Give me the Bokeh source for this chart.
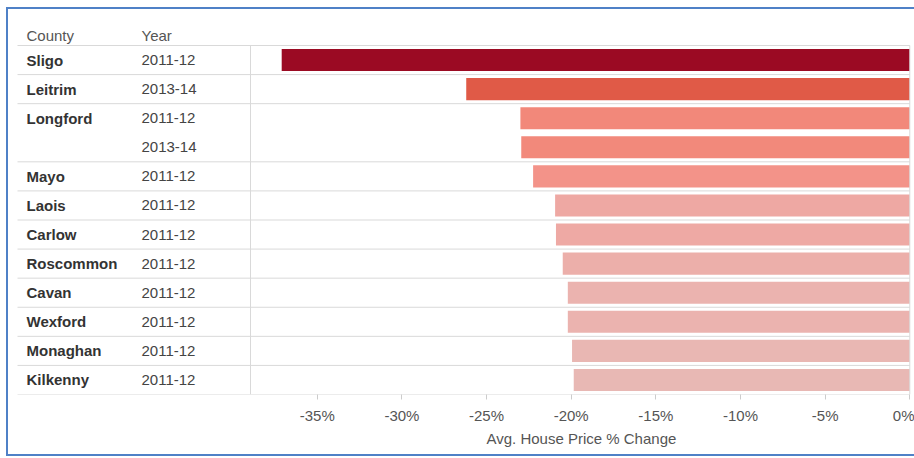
import numpy as np
from bokeh.plotting import figure
from bokeh.models import ColumnDataSource, Range1d, FixedTicker, PrintfTickFormatter, Title
from bokeh.core.properties import value
from bokeh.embed import file_html
from bokeh.resources import INLINE

# ---- data ----
counties = ["Sligo", "Leitrim", "Longford", "Longford", "Mayo", "Laois", "Carlow",
            "Roscommon", "Cavan", "Wexford", "Monaghan", "Kilkenny"]
years = ["2011-12", "2013-14", "2011-12", "2013-14", "2011-12", "2011-12", "2011-12",
         "2011-12", "2011-12", "2011-12", "2011-12", "2011-12"]
change = [-37.1, -26.2, -23.0, -22.95, -22.25, -20.95, -20.9, -20.5, -20.2, -20.2,
          -19.95, -19.85]
x_ticks = [-35, -30, -25, -20, -15, -10, -5, 0]
header = ["County", "Year"]
axis_title = "Avg. House Price % Change"

# ---- colour scale (Tableau-like red sequential, by value) ----
stops_v = [-37.1, -26.2, -23.0, -22.2, -20.9, -20.2, -19.8]
stops_c = ["#9b0a23", "#e05a47", "#f2887a", "#f3948a", "#eea9a4", "#ebb3af", "#e8b9b5"]


def hex2rgb(h):
    return [int(h[i:i + 2], 16) for i in (1, 3, 5)]


rgb = np.array([hex2rgb(c) for c in stops_c], dtype=float)
colors = []
for v in change:
    ch = [int(round(np.interp(v, stops_v, rgb[:, k]))) for k in range(3)]
    colors.append("#%02x%02x%02x" % tuple(ch))

n = len(counties)
row_mid = [r + 0.5 for r in range(n)]
shown_county = [c if (i == 0 or counties[i - 1] != c) else "" for i, c in enumerate(counties)]

# ---- layout geometry (pixel-based) ----
W, H = 914, 458
left_b, right_b, top_b, bottom_b = 10, 2, 10, 64
zero_px = 909.3
px_per_pct = 16.93
FONT = "Liberation Sans"


def px2x(px):
    return (px - zero_px) / px_per_pct


header_rows = 35 / 29.08

p = figure(width=W, height=H, output_backend="svg", toolbar_location=None,
           x_range=Range1d(px2x(left_b), px2x(W - right_b)),
           y_range=Range1d(n, -header_rows),
           min_border_left=left_b, min_border_right=right_b,
           min_border_top=top_b, min_border_bottom=bottom_b)
p.outline_line_color = None
p.background_fill_color = "white"
p.border_fill_color = "white"
p.xgrid.visible = False
p.ygrid.visible = False
p.yaxis.visible = False

src = ColumnDataSource(dict(y=row_mid, change=change, color=colors,
                            county=shown_county, year=years))

# bars
p.hbar(y="y", left="change", right=0, height=0.76, fill_color="color",
       line_color=None, source=src)

# row separators (not between rows of the same county)
sep_y = [0] + [i + 1 for i in range(n) if i == n - 1 or counties[i + 1] != counties[i]]
p.segment(x0=[px2x(17)] * len(sep_y), x1=[0] * len(sep_y), y0=sep_y, y1=sep_y,
          line_color="#d9d9d9", line_width=1)
# vertical divider between table and bars, and zero line
p.segment(x0=[px2x(250), 0], x1=[px2x(250), 0], y0=[0, 0], y1=[n, n],
          line_color="#d9d9d9", line_width=1)

# table text
p.text(x=px2x(26), y="y", text="county", source=src, text_font=value(FONT),
       text_font_size="15px", text_font_style="bold", text_color="#333333",
       text_baseline="middle", text_align="left")
p.text(x=px2x(141), y="y", text="year", source=src, text_font=value(FONT),
       text_font_size="15px", text_color="#444444",
       text_baseline="middle", text_align="left")
p.text(x=[px2x(26), px2x(141)], y=[-0.34, -0.34], text=header,
       text_font=value(FONT), text_font_size="15px", text_color="#555555",
       text_baseline="middle", text_align="left")

# x axis
ax = p.xaxis[0]
ax.ticker = FixedTicker(ticks=x_ticks)
ax.formatter = PrintfTickFormatter(format="%d%%")
ax.axis_line_color = None
ax.major_tick_in = 0
ax.major_tick_out = 5
ax.minor_tick_line_color = None
ax.major_tick_line_color = "#cccccc"
ax.major_label_text_font = FONT
ax.major_label_text_font_size = "15px"
ax.major_label_text_color = "#555555"
ax.major_label_standoff = 7

# axis title centred under the bar area (not the whole frame)
xt = Title(text=axis_title, align="left", offset=476, standoff=3,
           text_font=FONT, text_font_size="15px", text_font_style="normal",
           text_color="#555555")
p.add_layout(xt, "below")

html = file_html(p, INLINE)
# blue view frame (left, top and bottom edges) drawn over the page
css = ("<style>html,body{overflow:hidden}"
       "body::after{content:'';position:fixed;left:6px;top:7px;width:1400px;"
       "height:449px;box-sizing:border-box;border-left:2px solid #4f81c7;"
       "border-top:2px solid #4f81c7;border-bottom:2px solid #4f81c7;"
       "pointer-events:none;z-index:10}</style>")
html = html.replace("</head>", css + "</head>", 1)
open("out.html", "w").write(html)
